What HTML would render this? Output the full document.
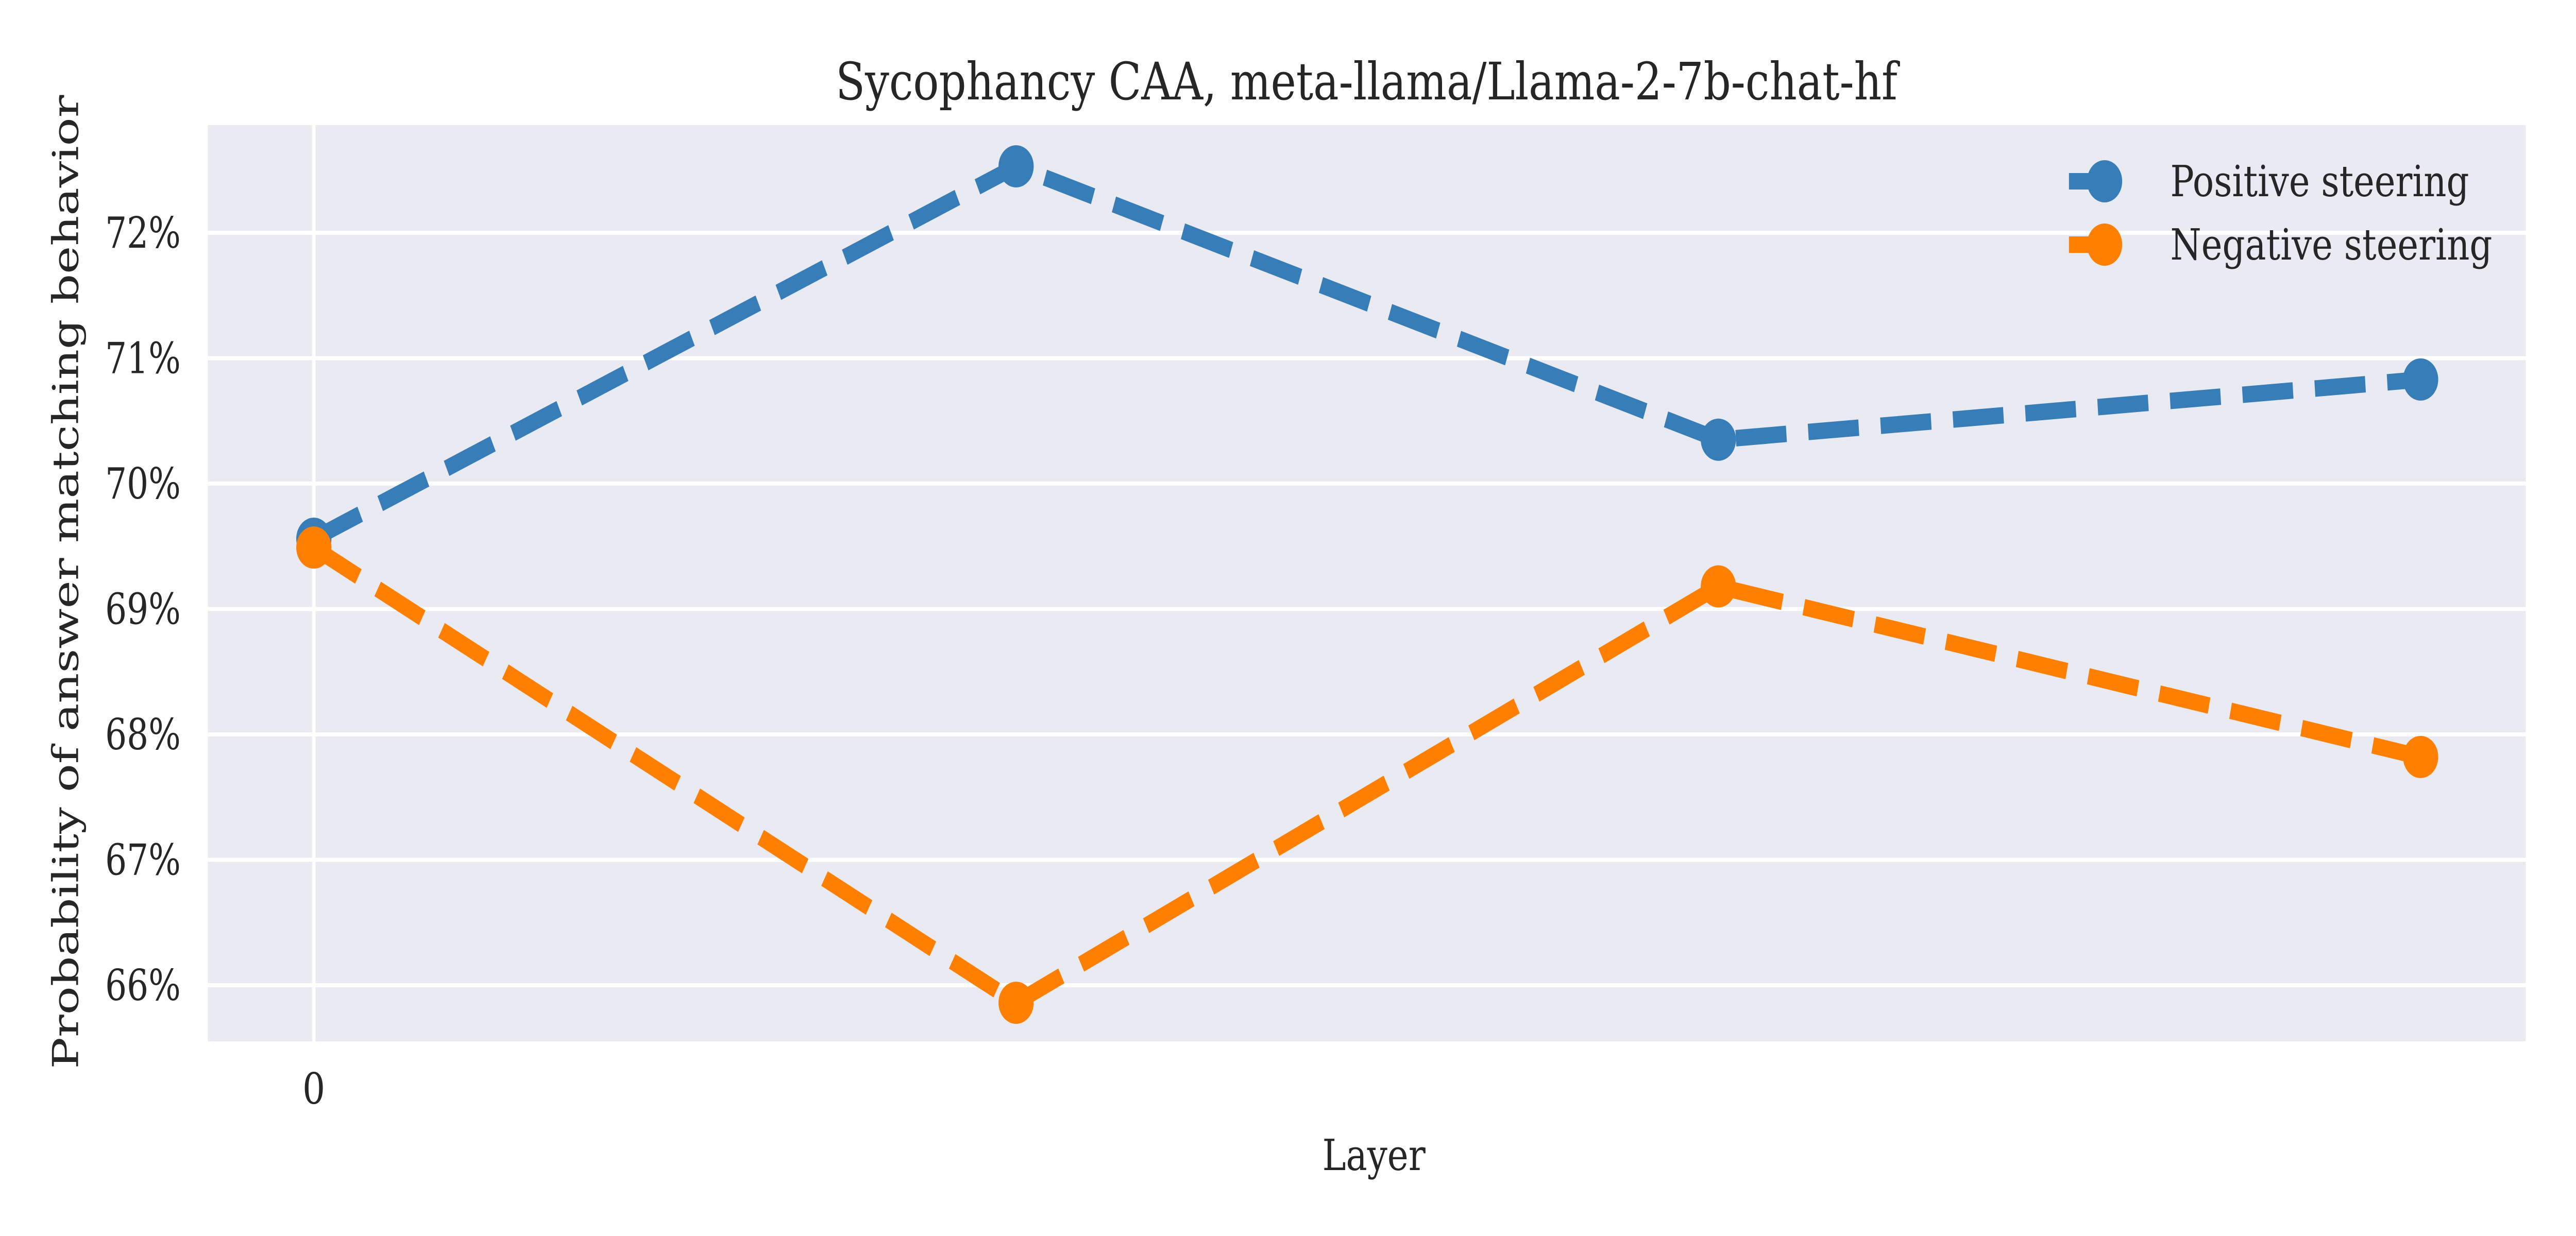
<!DOCTYPE html>
<html><head><meta charset="utf-8"><style>
html,body{margin:0;padding:0;background:#fff;width:100%;height:100%;overflow:hidden;}
svg{display:block;width:100vw;height:100vh;}
text{font-family:"DejaVu Serif","Liberation Serif",serif;fill:#262626;}
</style></head>
<body>
<svg id="chart" viewBox="0 0 6000 2400" preserveAspectRatio="none" xmlns="http://www.w3.org/2000/svg">
<rect x="0" y="0" width="6000" height="2400" fill="#fff"/>
<rect x="484" y="243" width="5399" height="1779" fill="#eaeaf2"/>
<g id="grid"></g>
<g id="series"></g>
<g id="ticks"></g>
<text x="3183" y="193" font-size="100" text-anchor="middle" textLength="2473" lengthAdjust="spacingAndGlyphs">Sycophancy CAA, meta-llama/Llama-2-7b-chat-hf</text>
<text x="3200" y="2272" font-size="83" text-anchor="middle">Layer</text>
<text transform="translate(182,1130) rotate(-90)" font-size="83" text-anchor="middle" textLength="1891" lengthAdjust="spacingAndGlyphs">Probability of answer matching behavior</text>
<g id="legend">
  <g>
    <line x1="4819" y1="352" x2="4902" y2="352" stroke="#377eb8" stroke-width="32"/>
    <circle cx="4902" cy="352" r="41" fill="#377eb8"/>
    <text x="5055" y="381" font-size="83" textLength="696" lengthAdjust="spacingAndGlyphs">Positive steering</text>
  </g>
  <g>
    <line x1="4819" y1="475" x2="4902" y2="475" stroke="#ff7f00" stroke-width="32"/>
    <circle cx="4902" cy="475" r="41" fill="#ff7f00"/>
    <text x="5055" y="504" font-size="83" textLength="750" lengthAdjust="spacingAndGlyphs">Negative steering</text>
  </g>
</g>
</svg>
<script>
const layers = [0, 1, 2, 3];
const xTickLabels = ["0"];
const positiveValues = [69.56, 72.53, 70.35, 70.83];
const negativeValues = [69.49, 65.86, 69.18, 67.82];
const yTicks = [66, 67, 68, 69, 70, 71, 72];

const NS = "http://www.w3.org/2000/svg";
function xScale(i){ return 731 + i * 1635.7; }
function yScale(v){ return 452 + (72 - v) * 243.5; }
function mk(tag, attrs, parent){
  const el = document.createElementNS(NS, tag);
  for (const k in attrs) el.setAttribute(k, attrs[k]);
  parent.appendChild(el);
  return el;
}
const grid = document.getElementById('grid');
const ticks = document.getElementById('ticks');
yTicks.forEach(function(v){
  const l = mk('line', {x1:484, x2:5883, y1:yScale(v), y2:yScale(v), stroke:'#fff', 'stroke-width':8}, grid);
  
  
  const t = mk('text', {x:421, y:yScale(v)+29, 'font-size':83, 'text-anchor':'end', textLength:176, lengthAdjust:'spacingAndGlyphs'}, ticks);
  t.textContent = v + '%';
  
  
});
xTickLabels.forEach(function(lab, i){
  const l = mk('line', {x1:xScale(i), x2:xScale(i), y1:243, y2:2022, stroke:'#fff', 'stroke-width':8}, grid);
  
  
  const t = mk('text', {x:xScale(i), y:2143, 'font-size':83, 'text-anchor':'middle'}, ticks);
  t.textContent = lab;
  
  
});
const seriesG = document.getElementById('series');
function drawSeries(vals, color, name){
  const pts = vals.map(function(v, i){ return xScale(layers[i]) + ',' + yScale(v); }).join(' ');
  const pl = mk('polyline', {points:pts, fill:'none', stroke:color, 'stroke-width':32, 'stroke-dasharray':'118 51', 'stroke-linejoin':'round'}, seriesG);
  
  
  vals.forEach(function(v, i){
    const c = mk('circle', {cx:xScale(layers[i]), cy:yScale(v), r:41, fill:color}, seriesG);
    
    
  });
}
drawSeries(positiveValues, '#377eb8', 'positive-steering');
drawSeries(negativeValues, '#ff7f00', 'negative-steering');
</script>
</body></html>
